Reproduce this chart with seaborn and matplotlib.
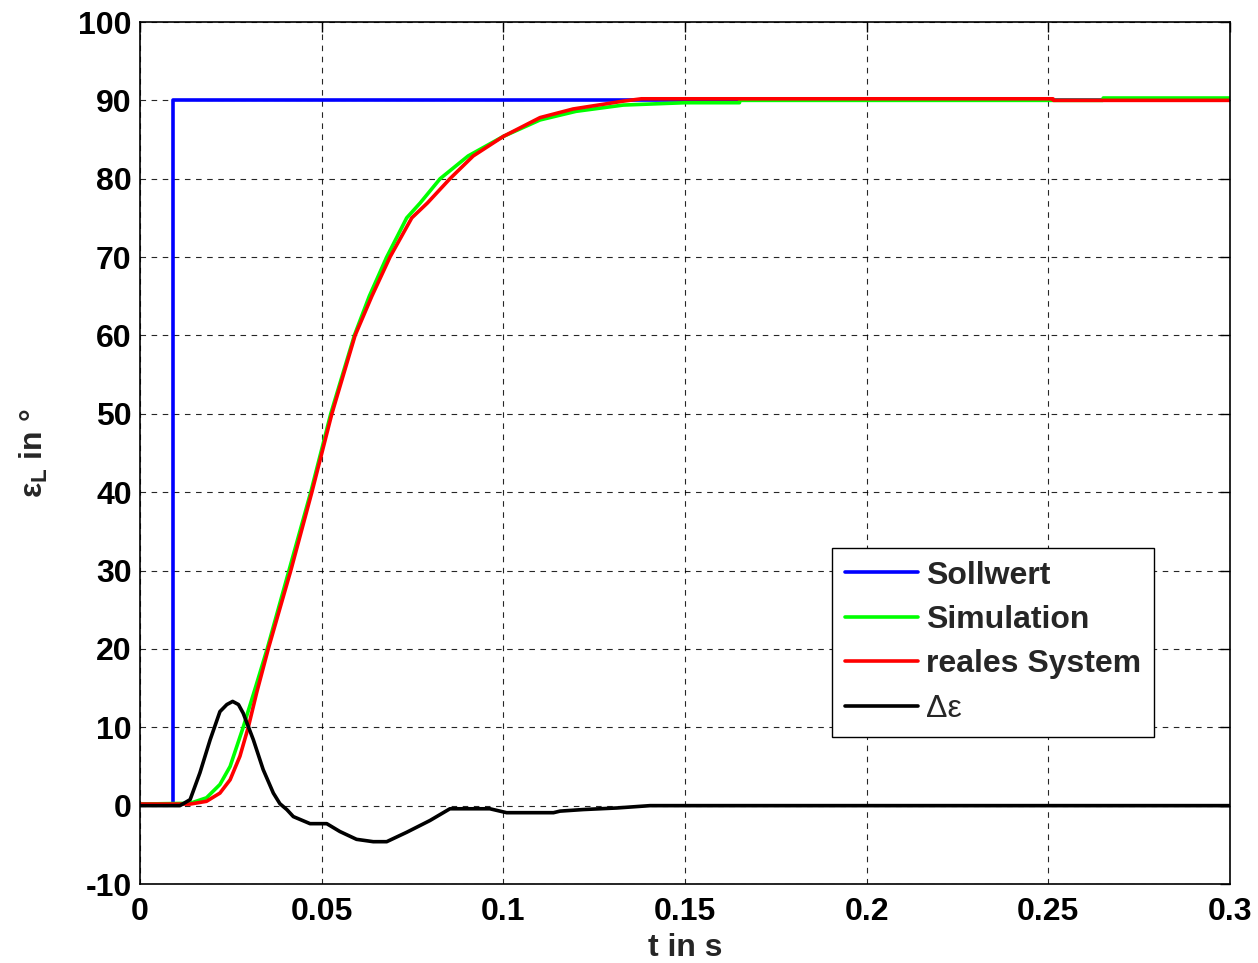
import numpy as np
import pandas as pd
import matplotlib
matplotlib.use("Agg")
import matplotlib.pyplot as plt
import seaborn as sns

# ---- data ----
t_soll = [0.0, 0.0092, 0.0092, 0.3]
v_soll = [0.2, 0.2, 90.0, 90.0]

t_sim = [0.0, 0.0138, 0.0183, 0.022, 0.0248, 0.0284, 0.0316, 0.035, 0.041, 0.047,
         0.0525, 0.059, 0.0631, 0.0679, 0.0734, 0.0771, 0.0826, 0.0903, 0.1, 0.1101,
         0.12, 0.133, 0.15, 0.165, 0.1651, 0.265, 0.2651, 0.3]
v_sim = [0.2, 0.3, 1.0, 2.7, 5.0, 10.0, 14.8, 20.0, 30.0, 40.0,
         50.0, 60.0, 65.0, 70.0, 75.0, 76.9, 80.0, 82.9, 85.4, 87.5,
         88.6, 89.4, 89.7, 89.7, 90.0, 90.0, 90.3, 90.3]

t_real = [0.0, 0.0138, 0.0183, 0.022, 0.0248, 0.0275, 0.0298, 0.0321, 0.0353, 0.0415,
          0.0473, 0.0528, 0.0592, 0.0638, 0.0688, 0.0748, 0.0791, 0.0853, 0.0917, 0.1,
          0.1101, 0.1192, 0.133, 0.138, 0.2513, 0.2514, 0.3]
v_real = [0.2, 0.2, 0.55, 1.6, 3.3, 6.3, 10.0, 14.4, 20.0, 30.0,
          40.0, 50.0, 60.0, 65.0, 70.0, 75.0, 76.9, 80.0, 82.9, 85.4,
          87.8, 88.9, 89.9, 90.2, 90.2, 90.0, 90.0]

t_delta = [0.0, 0.011, 0.0138, 0.0165, 0.0193, 0.022, 0.0239, 0.0255, 0.0271, 0.0284,
           0.0312, 0.0339, 0.0367, 0.0385, 0.0404, 0.0422, 0.0468, 0.0514, 0.055, 0.0596,
           0.0642, 0.0679, 0.0734, 0.0798, 0.0853, 0.0963, 0.1009, 0.1138, 0.1156, 0.122,
           0.1312, 0.1404, 0.3]
v_delta = [0.0, 0.0, 0.77, 4.2, 8.4, 12.0, 12.9, 13.3, 12.9, 11.8,
           8.4, 4.6, 1.6, 0.25, -0.5, -1.4, -2.3, -2.3, -3.3, -4.3,
           -4.6, -4.6, -3.4, -1.9, -0.4, -0.4, -0.9, -0.9, -0.7, -0.5,
           -0.3, 0.0, 0.0]

series_names = ["Sollwert", "Simulation", "reales System", "\u0394\u03b5"]
series_colors = ["#0000ff", "#00ff00", "#ff0000", "#000000"]

xticks = [0, 0.05, 0.1, 0.15, 0.2, 0.25, 0.3]
xtick_labels = ["0", "0.05", "0.1", "0.15", "0.2", "0.25", "0.3"]
yticks = list(range(-10, 101, 10))
ytick_labels = [str(v) for v in yticks]

# ---- style ----
sns.set_style("white")
plt.rcParams["font.family"] = ["Liberation Sans", "DejaVu Sans"]
plt.rcParams["font.weight"] = "bold"
plt.rcParams["axes.unicode_minus"] = False
plt.rcParams["mathtext.fontset"] = "custom"
plt.rcParams["mathtext.rm"] = "Liberation Sans:bold"
plt.rcParams["mathtext.it"] = "Liberation Sans:bold"
plt.rcParams["mathtext.bf"] = "Liberation Sans:bold"

FS = 23

fig = plt.figure(figsize=(12.58, 9.63), dpi=100)
ax = fig.add_axes([140 / 1258, 1 - 884 / 963, 1090 / 1258, 862 / 963])

frames = [
    pd.DataFrame({"t": t_soll, "v": v_soll}),
    pd.DataFrame({"t": t_sim, "v": v_sim}),
    pd.DataFrame({"t": t_real, "v": v_real}),
    pd.DataFrame({"t": t_delta, "v": v_delta}),
]
for df, name, col in zip(frames, series_names, series_colors):
    sns.lineplot(data=df, x="t", y="v", ax=ax, color=col, linewidth=2.6,
                 label=name, estimator=None, sort=False)

ax.set_xlim(0, 0.3)
ax.set_ylim(-10, 100)
ax.set_xticks(xticks)
ax.set_xticklabels(xtick_labels)
ax.set_yticks(yticks)
ax.set_yticklabels(ytick_labels)

ax.grid(True, color="#000000", linestyle=(0, (5, 5)), linewidth=0.8, alpha=0.85)
for s in ax.spines.values():
    s.set_color("black")
    s.set_linewidth(1.2)
ax.tick_params(direction="in", top=True, right=True, length=7, width=1,
               labelsize=FS, colors="black")
ax.tick_params(axis="x", pad=9)
ax.tick_params(axis="y", pad=6)
for lab in ax.get_xticklabels() + ax.get_yticklabels():
    lab.set_fontweight("bold")

ax.set_xlabel("t in s", fontsize=FS, fontweight="bold", labelpad=5)
ax.set_ylabel("\u03b5$_{\\mathrm{L}}$ in \u00b0", fontsize=FS, fontweight="bold", labelpad=20)

leg = ax.legend(loc="upper left", bbox_to_anchor=(0.635, 0.39), fontsize=FS,
                frameon=True, fancybox=False, edgecolor="black", framealpha=1,
                handlelength=2.3, handletextpad=0.25, labelspacing=0.45,
                borderpad=0.4, borderaxespad=0)
leg.get_frame().set_linewidth(1.0)
for txt in leg.get_texts():
    txt.set_fontweight("bold")
leg.get_texts()[3].set_fontweight("normal")

fig.savefig("out.png", dpi=100)
